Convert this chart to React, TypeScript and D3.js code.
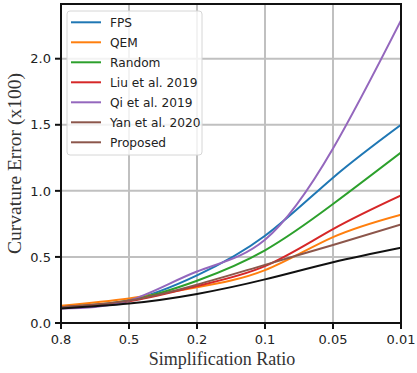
import React from 'react';
import * as d3 from 'd3';

// simplification ratios (categorical, equally spaced)
const ratios = ['0.8', '0.5', '0.2', '0.1', '0.05', '0.01'];
const yTicks = [0, 0.5, 1.0, 1.5, 2.0];

const fps = [0.12, 0.17, 0.36, 0.66, 1.10, 1.50];
const qem = [0.13, 0.185, 0.27, 0.40, 0.65, 0.82];
const random = [0.12, 0.17, 0.32, 0.55, 0.90, 1.29];
const liu = [0.12, 0.165, 0.28, 0.43, 0.71, 0.965];
const qi = [0.11, 0.17, 0.39, 0.63, 1.32, 2.29];
const yan = [0.12, 0.17, 0.29, 0.44, 0.59, 0.745];
const proposed = [0.11, 0.147, 0.22, 0.33, 0.46, 0.57];

const seriesNames = ['FPS', 'QEM', 'Random', 'Liu et al. 2019', 'Qi et al. 2019', 'Yan et al. 2020', 'Proposed'];
const seriesValues = [fps, qem, random, liu, qi, yan, proposed];
const lineColors = ['#1f77b4', '#ff7f0e', '#2ca02c', '#d62728', '#9467bd', '#8c564b', '#111111'];
// the legend of the original shows brown for "Proposed" too
const legendColors = ['#1f77b4', '#ff7f0e', '#2ca02c', '#d62728', '#9467bd', '#8c564b', '#8c564b'];

const W = 417;
const H = 373;
const left = 61;
const right = 401;
const top = 4;
const bottom = 323;

export default function App() {
  const x = d3.scalePoint<string>().domain(ratios).range([left, right]);
  const y = d3.scaleLinear().domain([0, 2.414]).range([bottom, top]);

  const line = d3.line<number>()
    .x((d, i) => x(ratios[i]) as number)
    .y(d => y(d))
    .curve(d3.curveNatural);

  const tickFont = { fontFamily: 'DejaVu Sans', fontSize: 13, fill: '#222' };

  return (
    <svg width={W} height={H} style={{ position: 'absolute', left: 0, top: 0, background: '#fff' }}>
      <defs>
        <clipPath id="plot">
          <rect x={left} y={top} width={right - left} height={bottom - top} />
        </clipPath>
      </defs>

      {/* grid */}
      {ratios.map(r => (
        <line key={'gx' + r} x1={x(r)} x2={x(r)} y1={top} y2={bottom} stroke="#c0c0c0" strokeWidth={2} />
      ))}
      {yTicks.map(t => (
        <line key={'gy' + t} x1={left} x2={right} y1={y(t)} y2={y(t)} stroke="#c0c0c0" strokeWidth={2} />
      ))}

      {/* series */}
      <g clipPath="url(#plot)">
        {seriesValues.map((vals, i) => (
          <path key={seriesNames[i]} d={line(vals) || ''} fill="none" stroke={lineColors[i]} strokeWidth={2} />
        ))}
      </g>

      {/* frame */}
      <rect x={left} y={top} width={right - left} height={bottom - top} fill="none" stroke="#111" strokeWidth={2} />

      {/* x ticks */}
      {ratios.map(r => (
        <g key={'tx' + r}>
          <line x1={x(r)} x2={x(r)} y1={bottom} y2={bottom + 6} stroke="#111" strokeWidth={2} />
          <text x={x(r)} y={bottom + 21} textAnchor="middle" {...tickFont}>{r}</text>
        </g>
      ))}

      {/* y ticks */}
      {yTicks.map(t => (
        <g key={'ty' + t}>
          <line x1={left - 6} x2={left} y1={y(t)} y2={y(t)} stroke="#111" strokeWidth={2} />
          <text x={left - 10} y={y(t)} dy="0.36em" textAnchor="end" {...tickFont}>{t.toFixed(1)}</text>
        </g>
      ))}

      {/* axis labels */}
      <text x={222} y={365} textAnchor="middle" fontFamily="Liberation Serif" fontSize={18} fill="#333">
        Simplification Ratio
      </text>
      <text transform={`translate(21 ${(top + bottom) / 2}) rotate(-90)`} textAnchor="middle"
        fontFamily="Liberation Serif" fontSize={19.5} fill="#333">
        Curvature Error (x100)
      </text>

      {/* legend */}
      <g>
        <rect x={67} y={11} width={135} height={144} rx={3} fill="#fff" fillOpacity={0.8} stroke="#d6d6d6" />
        {seriesNames.map((n, i) => (
          <g key={'lg' + n} transform={`translate(0 ${22.3 + i * 20})`}>
            <line x1={71} x2={101} y1={0} y2={0} stroke={legendColors[i]} strokeWidth={2} />
            <text x={110} y={0} dy="0.36em" fontFamily="DejaVu Sans" fontSize={12.2} fill="#222">{n}</text>
          </g>
        ))}
      </g>
    </svg>
  );
}
